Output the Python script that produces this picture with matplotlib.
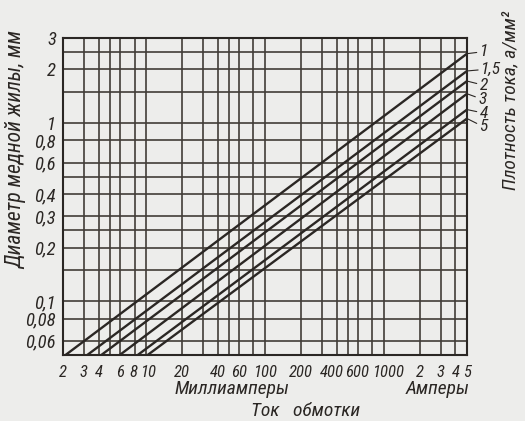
import matplotlib
matplotlib.use("Agg")
import matplotlib.pyplot as plt
from matplotlib import font_manager
from matplotlib.transforms import ScaledTranslation

# ---- data ----
densities = ["1", "1,5", "2", "3", "4", "5"]          # A/mm^2 labels
start_current_ma = [2.1, 3.2, 4.2, 6.0, 8.5, 10.3]    # current where each line meets d = 0.05 mm
start_diam_mm = [0.05, 0.05, 0.05, 0.05, 0.05, 0.05]
end_current_ma = [5000, 5000, 5000, 5000, 5000, 5000]
end_diam_mm = [2.45, 1.96, 1.72, 1.46, 1.19, 1.06]    # diameter at 5 A

x_grid = [2, 3, 4, 5, 6, 8, 10, 20, 30, 40, 50, 60, 80, 100, 200, 300, 400,
          500, 600, 800, 1000, 2000, 3000, 4000, 5000]
y_grid = [0.05, 0.06, 0.08, 0.1, 0.15, 0.2, 0.25, 0.3, 0.4, 0.5, 0.6, 0.8,
          1, 1.5, 2, 2.5, 3]
x_ticks = [2, 3, 4, 6, 8, 10, 20, 40, 60, 100, 200, 400, 600, 1000, 2000,
           3000, 4000, 5000]
x_ticklabels = ["2", "3", "4", "6", "8", "10", "20", "40", "60", "100", "200",
                "400", "600", "1000", "2", "3", "4", "5"]
y_ticks = [0.06, 0.08, 0.1, 0.2, 0.3, 0.4, 0.6, 0.8, 1, 2, 3]
y_ticklabels = ["0,06", "0,08", "0,1", "0,2", "0,3", "0,4", "0,6", "0,8",
                "1", "2", "3"]

# ---- styling ----
avail = {f.name for f in font_manager.fontManager.ttflist}
fam = []
for name in ["Liberation Sans Narrow", "DejaVu Sans Condensed", "Roboto Condensed"]:
    if name in avail:
        fam.append(name)
        break
fam.append("DejaVu Sans")
plt.rcParams["font.family"] = fam
plt.rcParams["font.style"] = "italic"
condensed = len(fam) > 1
k = 1.0 if condensed else 0.8

ink = "#2b2724"
bg = "#ededeb"
fs_xtick = 12 * k
fs_ytick = 13.5 * k
fs_dens = 12.5 * k
fs_ylab = 15.5 * k
fs_rlab = 14 * k
fs_xlab = 14 * k

fig = plt.figure(figsize=(5.25, 4.21), dpi=100, facecolor=bg)
ax = fig.add_axes([63 / 525, 1 - 355 / 421, 404 / 525, 317 / 421])
ax.set_facecolor(bg)
ax.set_xscale("log")
ax.set_yscale("log")
ax.set_xlim(2, 5000)
ax.set_ylim(0.05, 3)

for xv in x_grid:
    ax.axvline(xv, color="#423d38", lw=1.2, zorder=1)
for yv in y_grid:
    ax.axhline(yv, color="#423d38", lw=1.2, zorder=1)

label_offsets = [(9, 1.5), (10, 1.5), (9, -3), (8, -4), (9, -2.5), (9, -6)]
for i in range(len(densities)):
    ax.plot([start_current_ma[i], end_current_ma[i]],
            [start_diam_mm[i], end_diam_mm[i]],
            color=ink, lw=1.7, zorder=3, clip_on=False,
            solid_capstyle="butt")
    ax.annotate(densities[i], xy=(end_current_ma[i], end_diam_mm[i]),
                xytext=label_offsets[i], textcoords="offset points",
                ha="left", va="center", fontsize=fs_dens, color=ink,
                annotation_clip=False,
                arrowprops=dict(arrowstyle="-", color=ink, lw=0.8,
                                shrinkA=0, shrinkB=0))

ax.minorticks_off()
ax.set_xticks(x_ticks)
ax.set_xticklabels(x_ticklabels)
ax.set_yticks(y_ticks)
ax.set_yticklabels(y_ticklabels)
ax.tick_params(axis="both", length=0, colors=ink)
ax.tick_params(axis="x", pad=7, labelsize=fs_xtick)
ax.tick_params(axis="y", pad=5, labelsize=fs_ytick)
for s in ax.spines.values():
    s.set_color(ink)
    s.set_linewidth(1.5)

# small horizontal nudges of crowded tick labels (in points)
nudges = {"8": -1.0, "10": 1.5, "400": -3.5, "600": 0.0, "1000": 3.0}
for tick in ax.xaxis.get_major_ticks():
    lab = tick.label1
    dx = nudges.get(lab.get_text(), 0.0)
    if dx:
        lab.set_transform(lab.get_transform() +
                          ScaledTranslation(dx / 72, 0, fig.dpi_scale_trans))

fig.text(17 / 525, 1 - 150 / 421, "Диаметр медной жилы, мм", rotation=90,
         ha="center", va="center", fontsize=fs_ylab, color=ink)
fig.text(510 / 525, 1 - 100 / 421, "Плотность тока, а/мм²", rotation=90,
         ha="center", va="center", fontsize=fs_rlab, color=ink)
fig.text(232 / 525, 1 - 389 / 421, "Миллиамперы", ha="center", va="center",
         fontsize=fs_xlab, color=ink)
fig.text(438 / 525, 1 - 389 / 421, "Амперы", ha="center", va="center",
         fontsize=fs_xlab, color=ink)
fig.text(306 / 525, 1 - 411 / 421, "Ток   обмотки", ha="center", va="center",
         fontsize=fs_xlab, color=ink)

fig.savefig("out.png", dpi=100, facecolor=bg)
